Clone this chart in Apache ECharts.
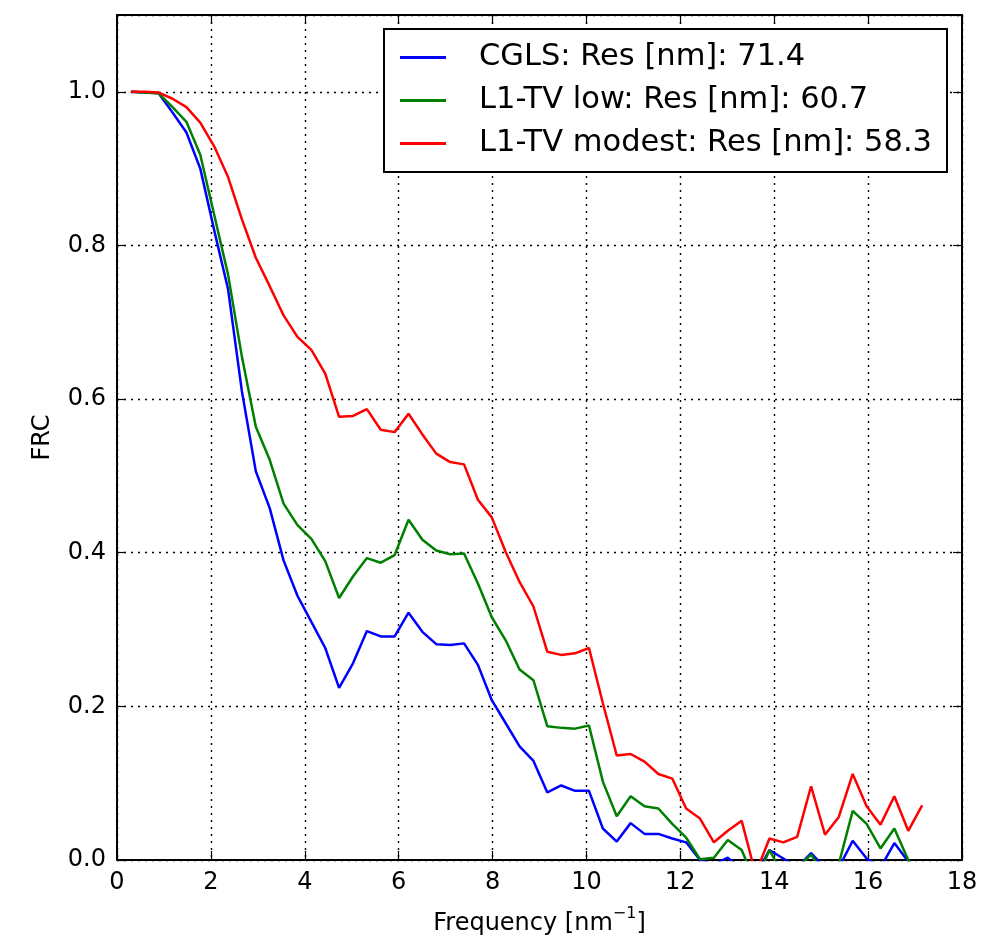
<!DOCTYPE html>
<html>
<head>
<meta charset="utf-8">
<title>FRC</title>
<script src="https://cdn.jsdelivr.net/npm/echarts@6/dist/echarts.min.js"></script>
<style>
  html, body { margin: 0; padding: 0; background: #fff; }
  #chart { width: 982px; height: 937px; }
</style>
</head>
<body>
<div id="chart"></div>
<script>
// Spatial frequency samples [nm^-1]
const freq = [
  0.296, 0.591, 0.887, 1.183, 1.479, 1.774, 2.070, 2.366, 2.661, 2.957,
  3.253, 3.548, 3.844, 4.140, 4.436, 4.731, 5.027, 5.323, 5.618, 5.914,
  6.210, 6.505, 6.801, 7.097, 7.393, 7.688, 7.984, 8.280, 8.575, 8.871,
  9.167, 9.462, 9.758, 10.054, 10.350, 10.645, 10.941, 11.237, 11.532, 11.828,
  12.124, 12.419, 12.715, 13.011, 13.307, 13.602, 13.898, 14.194, 14.489, 14.785,
  15.081, 15.376, 15.672, 15.968, 16.264, 16.559, 16.855, 17.151
];

// Fourier ring correlation per reconstruction
const cgls = [
  1.000, 0.999, 0.998, 0.973, 0.947, 0.900, 0.820, 0.743, 0.610, 0.506,
  0.458, 0.390, 0.344, 0.310, 0.276, 0.224, 0.256, 0.298, 0.291, 0.291,
  0.322, 0.297, 0.281, 0.280, 0.282, 0.254, 0.208, 0.178, 0.148, 0.129,
  0.088, 0.097, 0.090, 0.090, 0.041, 0.024, 0.048, 0.034, 0.034, 0.028,
  0.023, 0.000, -0.006, 0.003, -0.012, -0.020, 0.013, 0.002, -0.010, 0.009,
  -0.010, -0.010, 0.025, 0.002, -0.010, 0.022, -0.002, -0.020
];

const tvLow = [
  1.000, 0.999, 0.998, 0.980, 0.961, 0.918, 0.840, 0.762, 0.655, 0.564,
  0.521, 0.464, 0.436, 0.418, 0.389, 0.341, 0.369, 0.393, 0.387, 0.397,
  0.443, 0.417, 0.403, 0.398, 0.399, 0.360, 0.316, 0.286, 0.248, 0.234,
  0.174, 0.172, 0.171, 0.175, 0.102, 0.057, 0.083, 0.070, 0.067, 0.047,
  0.029, 0.001, 0.003, 0.026, 0.013, -0.030, 0.013, -0.020, -0.010, 0.007,
  -0.020, -0.005, 0.064, 0.047, 0.015, 0.041, 0.000, -0.020
];

const tvModest = [
  1.000, 1.000, 0.999, 0.991, 0.980, 0.960, 0.929, 0.889, 0.834, 0.784,
  0.747, 0.709, 0.681, 0.664, 0.633, 0.577, 0.578, 0.587, 0.560, 0.557,
  0.581, 0.554, 0.529, 0.518, 0.515, 0.469, 0.446, 0.401, 0.362, 0.330,
  0.271, 0.267, 0.269, 0.276, 0.204, 0.136, 0.138, 0.128, 0.112, 0.106,
  0.067, 0.054, 0.023, 0.038, 0.051, -0.018, 0.028, 0.023, 0.030, 0.096,
  0.033, 0.056, 0.112, 0.070, 0.046, 0.083, 0.038, 0.071
];

const seriesNames = [
  'CGLS: Res [nm]: 71.4',
  'L1-TV low: Res [nm]: 60.7',
  'L1-TV modest: Res [nm]: 58.3'
];
const seriesColors = ['#0000ff', '#008000', '#ff0000'];
const seriesValues = [cgls, tvLow, tvModest];

const FONT = 'DejaVu Sans';
const gridDots = { type: [2, 5], color: '#000', width: 1.4 };

function pairs(vals) {
  return freq.map((f, i) => [f, vals[i]]);
}

const chart = echarts.init(document.getElementById('chart'), null, { renderer: 'canvas' });

const xBase = {
  type: 'value', min: 0, max: 18, interval: 2,
  axisLine: { show: true, onZero: false, lineStyle: { color: '#000', width: 2 } },
  axisTick: { show: true, inside: true, length: 9, lineStyle: { color: '#000', width: 1.2 } },
  splitLine: { show: false }
};
const yBase = {
  type: 'value', min: 0, max: 1.1, interval: 0.2,
  axisLine: { show: true, onZero: false, lineStyle: { color: '#000', width: 2 } },
  axisTick: { show: true, inside: true, length: 9, lineStyle: { color: '#000', width: 1.2 } },
  splitLine: { show: false }
};

chart.setOption({
  animation: false,
  backgroundColor: '#fff',
  grid: { left: 117, right: 20, top: 15, bottom: 77, containLabel: false, outerBoundsMode: 'none' },
  xAxis: [
    Object.assign({}, xBase, {
      position: 'bottom',
      splitLine: { show: true, lineStyle: gridDots },
      axisLabel: { show: true, margin: 11, fontSize: 24, fontFamily: FONT, color: '#000' },
      name: '{t|Frequency [nm}{s|\u22121}{t|]}',
      nameLocation: 'middle',
      nameGap: 46,
      nameTextStyle: {
        fontFamily: FONT, color: '#000',
        rich: {
          t: { fontSize: 24, fontFamily: FONT, color: '#000', lineHeight: 30, verticalAlign: 'bottom' },
          s: { fontSize: 16, fontFamily: FONT, color: '#000', lineHeight: 16, verticalAlign: 'top' }
        }
      }
    }),
    Object.assign({}, xBase, { position: 'top', axisLabel: { show: false } })
  ],
  yAxis: [
    Object.assign({}, yBase, {
      position: 'left',
      splitLine: { show: true, lineStyle: gridDots },
      axisLabel: {
        show: true, margin: 11, fontSize: 24, fontFamily: FONT, color: '#000',
        showMaxLabel: false,
        formatter: v => (v > 1.05 ? '' : v.toFixed(1))
      },
      name: 'FRC',
      nameLocation: 'middle',
      nameGap: 62,
      nameRotate: 90,
      nameTextStyle: { fontSize: 24, fontFamily: FONT, color: '#000' }
    }),
    Object.assign({}, yBase, { position: 'right', axisLabel: { show: false } })
  ],
  legend: {
    orient: 'vertical',
    left: 384,
    top: 29,
    padding: [13, 15, 13, 16],
    itemWidth: 46,
    itemHeight: 3,
    itemGap: 12,
    icon: 'rect',
    borderColor: '#000',
    borderWidth: 2,
    backgroundColor: '#fff',
    textStyle: { fontSize: 30.5, fontFamily: FONT, color: '#000', lineHeight: 31, padding: [0, 0, 0, 28] },
    data: seriesNames
  },
  series: seriesValues.map((vals, i) => ({
    name: seriesNames[i],
    type: 'line',
    xAxisIndex: 0,
    yAxisIndex: 0,
    data: pairs(vals),
    showSymbol: false,
    symbol: 'none',
    clip: true,
    color: seriesColors[i],
    lineStyle: { color: seriesColors[i], width: 2.5 },
    z: 3 + i
  }))
});
</script>
</body>
</html>
